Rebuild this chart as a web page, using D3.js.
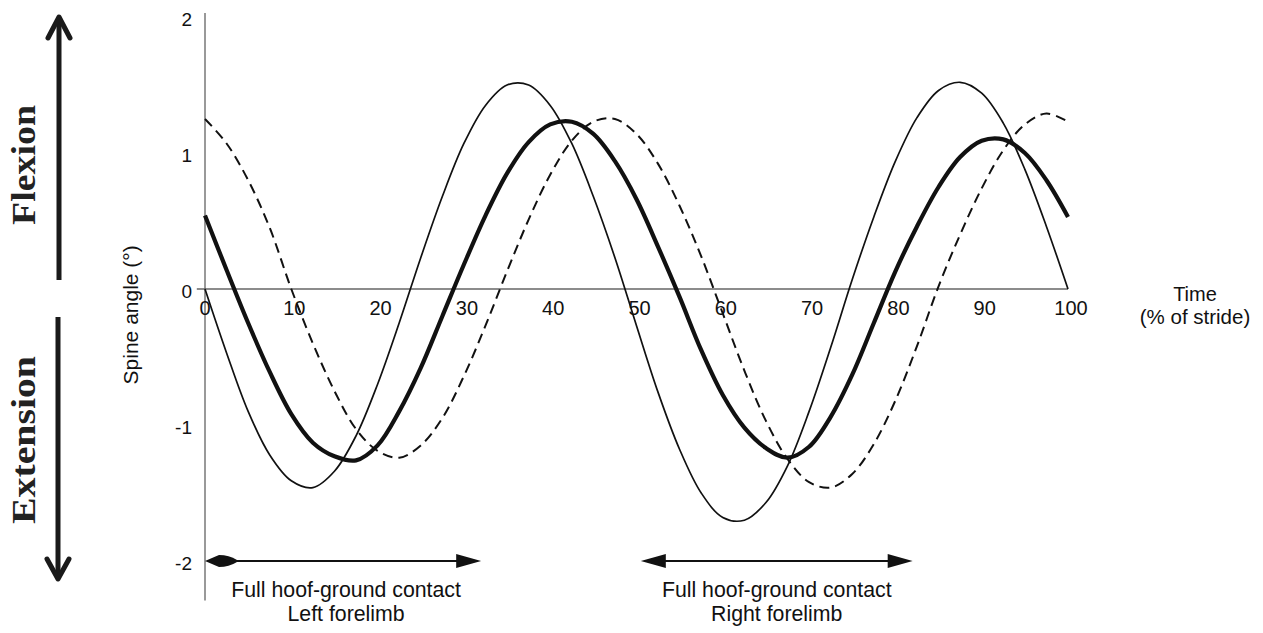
<!DOCTYPE html>
<html><head><meta charset="utf-8">
<script src="https://cdn.jsdelivr.net/npm/d3@7"></script>
<style>body{margin:0;background:#fff}svg{display:block}</style>
</head><body><svg id="c" width="1263" height="633"></svg>
<script>
// % of stride sample positions
const stride = [0,2.5,5,7.5,10,12.5,15,17.5,20,22.5,25,27.5,30,32.5,35,37.5,40,42.5,45,47.5,50,52.5,55,57.5,60,62.5,65,67.5,70,72.5,75,77.5,80,82.5,85,87.5,90,92.5,95,97.5,100];
// spine angle (deg), thin solid curve
const thinAngle = [0,-0.47,-0.90,-1.22,-1.41,-1.46,-1.34,-1.08,-0.70,-0.25,0.23,0.68,1.07,1.35,1.50,1.50,1.35,1.07,0.68,0.23,-0.27,-0.76,-1.18,-1.50,-1.68,-1.70,-1.57,-1.30,-0.90,-0.43,0.07,0.53,0.94,1.26,1.46,1.52,1.44,1.22,0.88,0.46,0];
// thick solid curve
const thickAngle = [0.54,0.14,-0.25,-0.61,-0.92,-1.13,-1.23,-1.26,-1.15,-0.90,-0.58,-0.20,0.18,0.54,0.85,1.08,1.21,1.23,1.14,0.94,0.66,0.31,-0.06,-0.45,-0.78,-1.02,-1.17,-1.24,-1.16,-0.94,-0.63,-0.25,0.13,0.46,0.75,0.97,1.09,1.10,1.00,0.80,0.53];
// dashed curve
const dashedAngle = [1.25,1.07,0.80,0.45,0,-0.40,-0.75,-1.03,-1.19,-1.24,-1.15,-0.95,-0.64,-0.27,0.13,0.51,0.84,1.09,1.23,1.25,1.14,0.92,0.61,0.24,-0.18,-0.60,-0.97,-1.25,-1.42,-1.46,-1.36,-1.14,-0.82,-0.42,0.02,0.40,0.74,1.02,1.21,1.29,1.23];
const xTicks = [0,10,20,30,40,50,60,70,80,90,100];
const yTicks = [-2,-1,0,1,2];
const contactLeft = [0,32];
const contactRight = [50.5,82];
const contactLabels = [["Full hoof-ground contact","Left forelimb"],["Full hoof-ground contact","Right forelimb"]];

const svg = d3.select("#c");
const x = d3.scaleLinear().domain([0,100]).range([205,1068]);
const y = d3.scaleLinear().domain([-2,2]).range([561,17]);
const sans = "'Liberation Sans', Arial, Helvetica, sans-serif";
const ink = "#111";

// y axis line
svg.append("line").attr("x1",x(0)).attr("x2",x(0)).attr("y1",y(2.03)).attr("y2",y(-2.29))
  .attr("stroke","#555").attr("stroke-width",1.2);
// x axis (zero line)
svg.append("line").attr("x1",x(-0.95)).attr("x2",x(100)).attr("y1",y(0)).attr("y2",y(0))
  .attr("stroke","#666").attr("stroke-width",1.3);

// y tick labels
svg.append("g").selectAll("text").data(yTicks).join("text")
  .attr("x",x(0)-13).attr("y",d=>y(d)+2).attr("dy","0.35em")
  .attr("text-anchor","end").attr("font-family",sans).attr("font-size",19).attr("fill",ink)
  .text(d=>d);
// x tick labels
svg.append("g").selectAll("text").data(xTicks).join("text")
  .attr("x",d=>x(d)+(d===0?0:3)).attr("y",y(0)+26)
  .attr("text-anchor","middle").attr("font-family",sans).attr("font-size",20).attr("fill",ink)
  .text(d=>d);

// axis titles
svg.append("text").attr("x",1195).attr("y",y(0)+12).attr("text-anchor","middle")
  .attr("font-family",sans).attr("font-size",20).attr("fill",ink).text("Time");
svg.append("text").attr("x",1195).attr("y",y(0)+35).attr("text-anchor","middle")
  .attr("font-family",sans).attr("font-size",20.5).attr("fill",ink).text("(% of stride)");
svg.append("text").attr("transform",`translate(138,${y(-0.19)}) rotate(-90)`).attr("text-anchor","middle")
  .attr("font-family",sans).attr("font-size",21).attr("fill",ink).text("Spine angle (°)");

// curves
const line = arr => d3.line().x((d,i)=>x(stride[i])).y(d=>y(d)).curve(d3.curveCatmullRom.alpha(0.5))(arr);
svg.append("path").attr("d",line(dashedAngle)).attr("fill","none").attr("stroke",ink)
  .attr("stroke-width",2).attr("stroke-dasharray","10,6");
svg.append("path").attr("d",line(thinAngle)).attr("fill","none").attr("stroke",ink).attr("stroke-width",1.7);
svg.append("path").attr("d",line(thickAngle)).attr("fill","none").attr("stroke",ink).attr("stroke-width",4.2);

// hoof contact arrows
function contactArrow(range, lozenge){
  const x0 = x(range[0]), x1 = x(range[1]), yy = y(-2);
  const g = svg.append("g");
  g.append("line").attr("x1",x0+10).attr("x2",x1-10).attr("y1",yy).attr("y2",yy)
    .attr("stroke",ink).attr("stroke-width",2);
  if (lozenge) {
    g.append("path").attr("d",`M${x0},${yy} L${x0+14},${yy-6} Q${x0+24},${yy-6} ${x0+32},${yy-1} L${x0+32},${yy+1} Q${x0+24},${yy+6} ${x0+14},${yy+6} Z`).attr("fill",ink);
  } else {
    g.append("path").attr("d",`M${x0},${yy} L${x0+25},${yy-7} L${x0+25},${yy+7} Z`).attr("fill",ink);
  }
  g.append("path").attr("d",`M${x1},${yy} L${x1-25},${yy-7} L${x1-25},${yy+7} Z`).attr("fill",ink);
}
contactArrow(contactLeft,true);
contactArrow(contactRight,false);
[contactLeft,contactRight].forEach((r,i)=>{
  const cx = (x(r[0])+x(r[1]))/2 + (i===0?3:0);
  svg.append("text").attr("x",cx).attr("y",597).attr("text-anchor","middle")
    .attr("font-family",sans).attr("font-size",21.3).attr("fill",ink).text(contactLabels[i][0]);
  svg.append("text").attr("x",cx).attr("y",621).attr("text-anchor","middle")
    .attr("font-family",sans).attr("font-size",21.3).attr("fill",ink).text(contactLabels[i][1]);
});

// Flexion / Extension arrows
const ax = 59;
svg.append("line").attr("x1",ax).attr("x2",ax).attr("y1",280).attr("y2",18).attr("stroke","#1a1a1a").attr("stroke-width",5);
svg.append("path").attr("d",`M${ax-11},38 L${ax},17 L${ax+11},38`).attr("fill","none").attr("stroke","#1a1a1a")
  .attr("stroke-width",5).attr("stroke-linecap","round").attr("stroke-linejoin","round");
svg.append("line").attr("x1",ax-1).attr("x2",ax-1).attr("y1",317).attr("y2",578).attr("stroke","#1a1a1a").attr("stroke-width",5);
svg.append("path").attr("d",`M${ax-12},559 L${ax-1},579 L${ax+10},559`).attr("fill","none").attr("stroke","#1a1a1a")
  .attr("stroke-width",5).attr("stroke-linecap","round").attr("stroke-linejoin","round");
const serif = "'Liberation Serif', 'Times New Roman', serif";
svg.append("text").attr("transform","translate(35,165) rotate(-90)").attr("text-anchor","middle")
  .attr("font-family",serif).attr("font-weight","bold").attr("font-size",34).attr("fill","#222")
  .attr("textLength",120).attr("lengthAdjust","spacingAndGlyphs").text("Flexion");
svg.append("text").attr("transform","translate(35,440) rotate(-90)").attr("text-anchor","middle")
  .attr("font-family",serif).attr("font-weight","bold").attr("font-size",34).attr("fill","#222")
  .attr("textLength",168).attr("lengthAdjust","spacingAndGlyphs").text("Extension");
</script></body></html>
